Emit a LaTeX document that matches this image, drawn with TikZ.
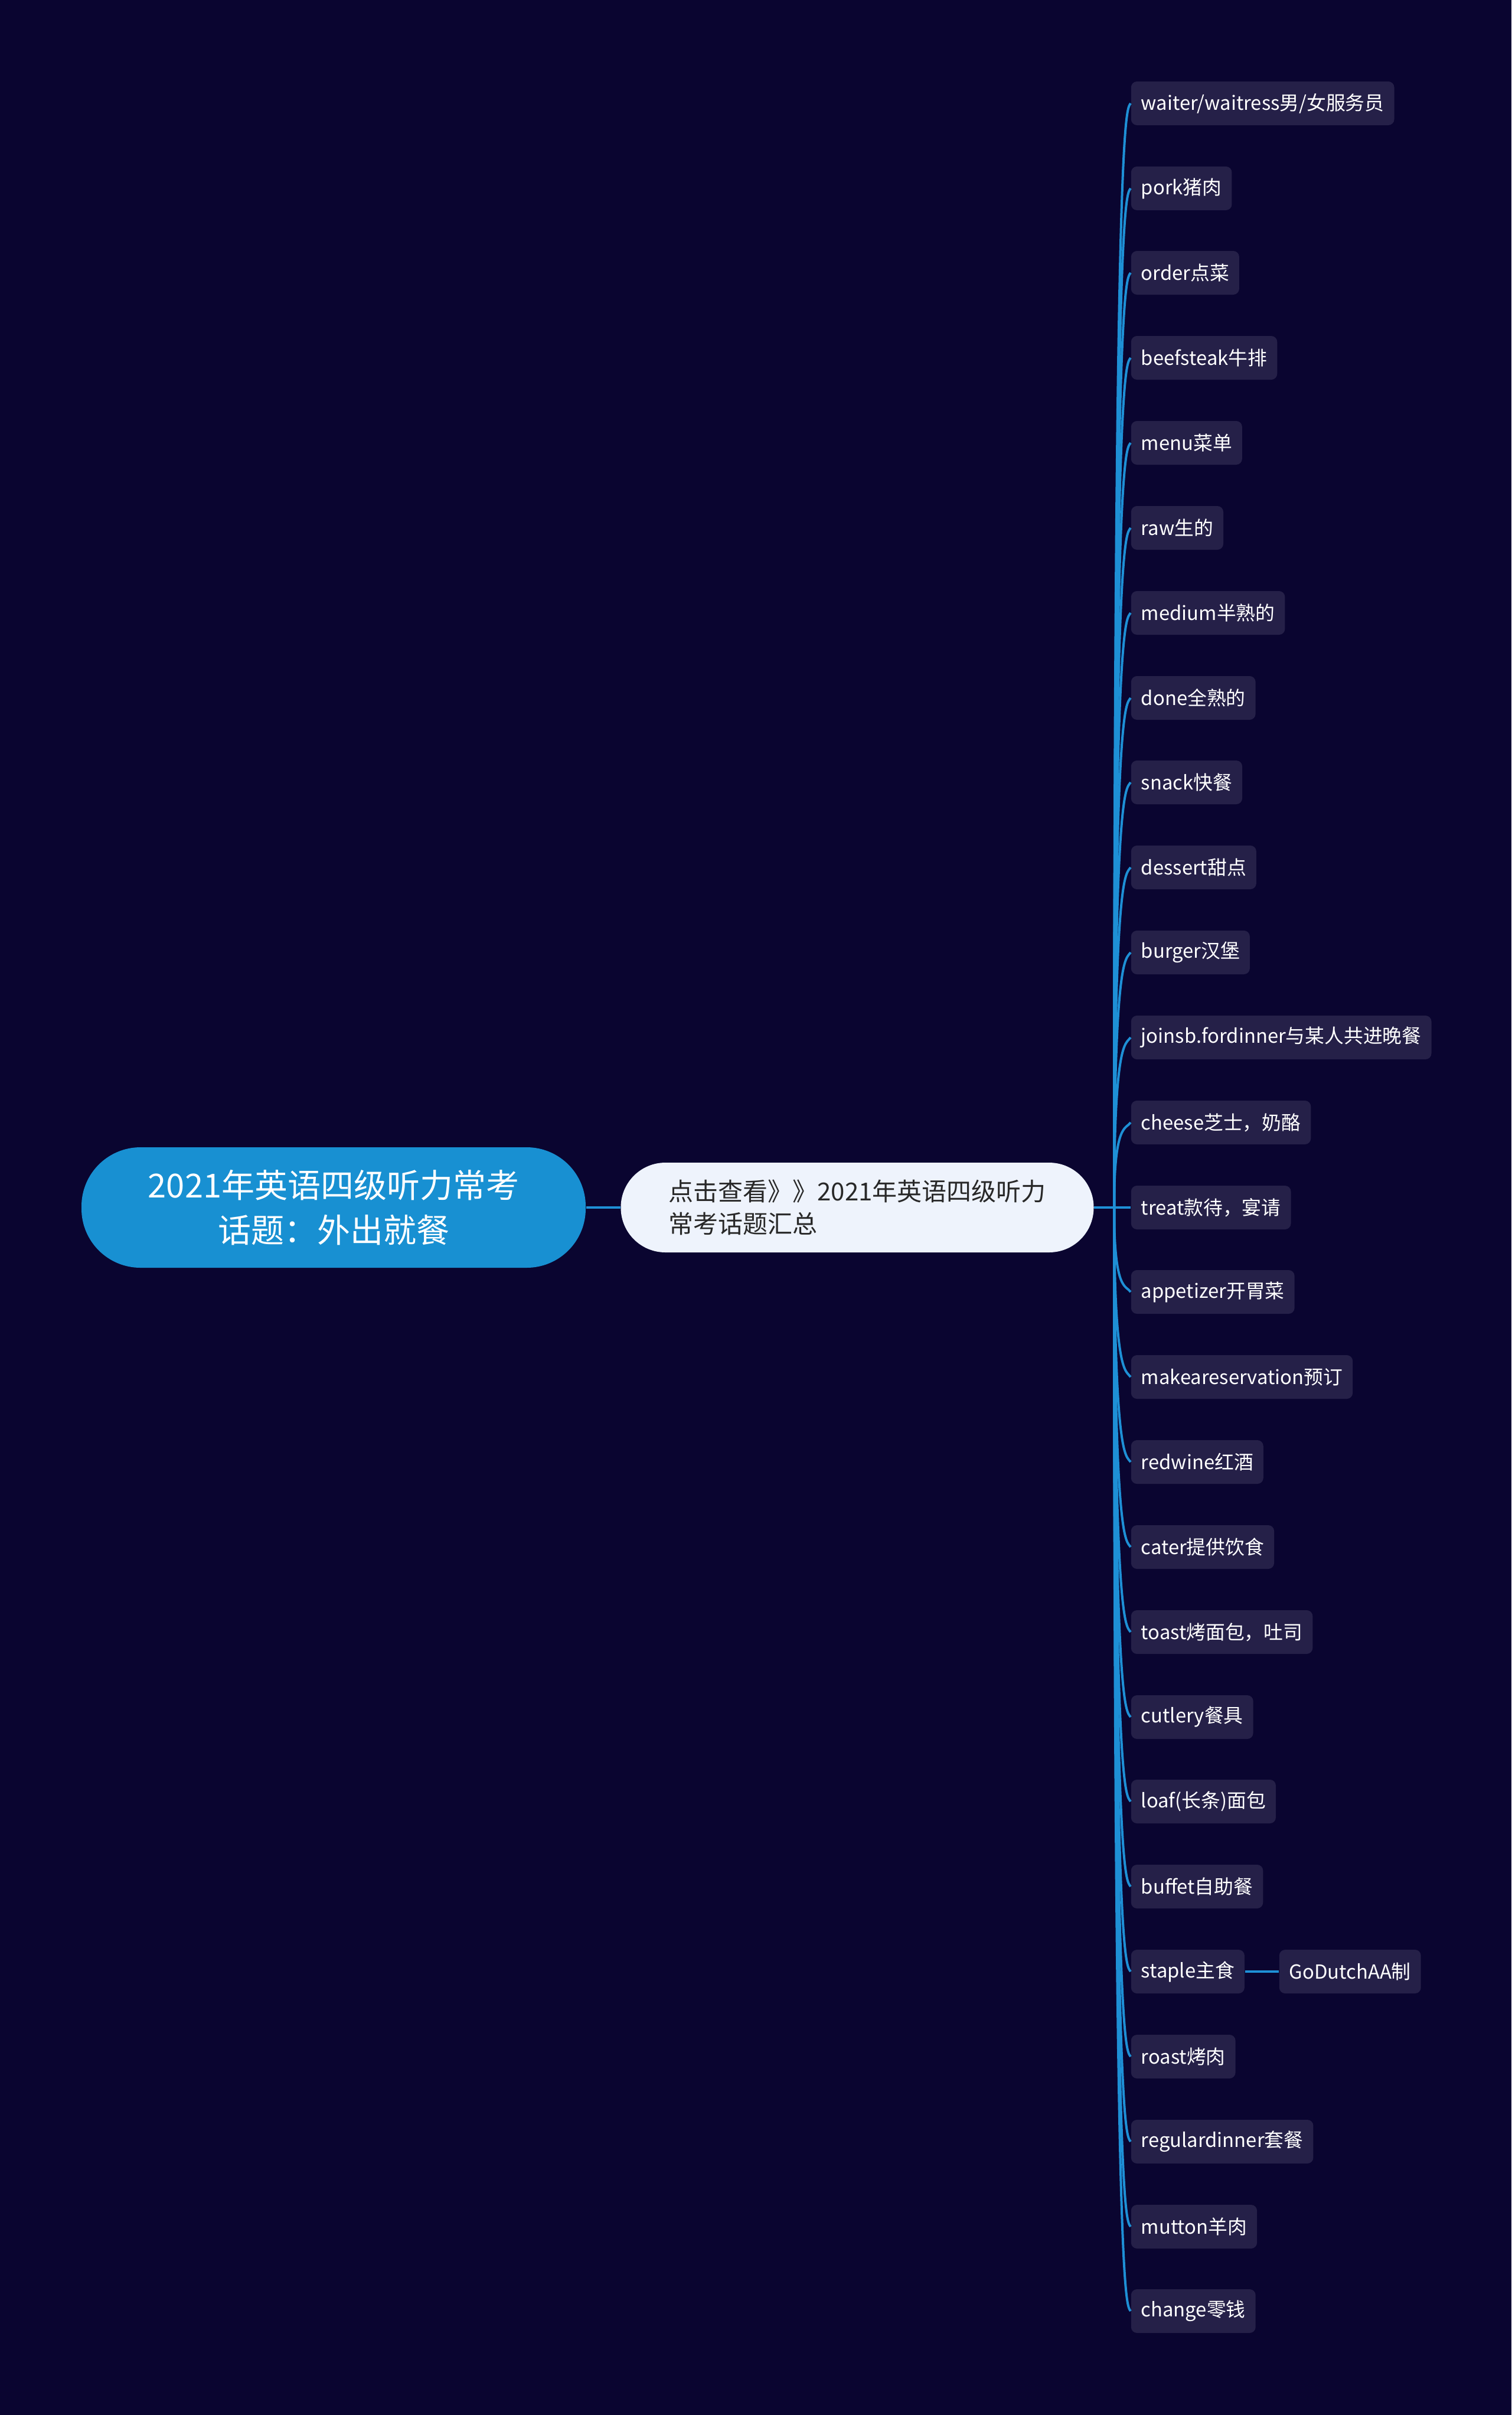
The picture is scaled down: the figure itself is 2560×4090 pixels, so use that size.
\documentclass[tikz,border=0pt]{standalone}
\usepackage{fontspec}
\setmainfont{Noto Sans CJK SC}
\usepackage{tikz}

\definecolor{bgnavy}{RGB}{10,5,48}
\definecolor{leafbg}{RGB}{37,32,72}
\definecolor{linkblue}{RGB}{30,144,214}
\definecolor{rootblue}{RGB}{24,144,210}
\definecolor{midbg}{RGB}{238,243,252}
\definecolor{midtext}{RGB}{40,40,40}

\tikzset{
  rootbox/.style={fill=rootblue, text=white, rounded corners=25pt, minimum width=213.5pt,
    minimum height=51pt, inner sep=0pt, align=center, font=\fontsize{14}{19}\selectfont},
  topicbox/.style={fill=midbg, text=midtext, rounded corners=18.9pt, minimum width=200.25pt,
    minimum height=38pt, inner sep=0pt, align=left, font=\fontsize{10.5}{13.7}\selectfont},
  leaf/.style={fill=leafbg, text=white, rounded corners=2.5pt, minimum height=18.5pt,
    inner xsep=4.25pt, inner ysep=0pt, anchor=west, font=\fontsize{8.2}{10}\selectfont},
  branch/.style={draw=linkblue, line width=1pt},
  upbranch/.style={branch, to path={.. controls (\tikztostart |- \tikztotarget)
    and ([shift={(-8,12)}]\tikztotarget) .. (\tikztotarget)}},
  downbranch/.style={branch, to path={.. controls (\tikztostart |- \tikztotarget)
    and ([shift={(-8,-12)}]\tikztotarget) .. (\tikztotarget)}},
}

\begin{document}
\begin{tikzpicture}[x=0.25pt, y=-0.25pt]
\fill[bgnavy] (0,0) rectangle (2560,4090);
\useasboundingbox (0,0) rectangle (2560,4090);
%
\node[rootbox] (root) at (565,2045) {2021年英语四级听力常考\\话题：外出就餐};
\node[topicbox] (mid) at (1452,2045) {点击查看》》2021年英语四级听力\\常考话题汇总};
\coordinate (hub) at (1887,2045);
\draw[branch] (root.east) -- (mid.west);
\draw[branch] (mid.east) -- (hub);
%
\node[leaf] (l1) at (1915,175) {waiter/waitress男/女服务员};
\node[leaf] (l2) at (1915,319) {pork猪肉};
\node[leaf] (l3) at (1915,462) {order点菜};
\node[leaf] (l4) at (1915,606) {beefsteak牛排};
\node[leaf] (l5) at (1915,750) {menu菜单};
\node[leaf] (l6) at (1915,894) {raw生的};
\node[leaf] (l7) at (1915,1038) {medium半熟的};
\node[leaf] (l8) at (1915,1182) {done全熟的};
\node[leaf] (l9) at (1915,1325) {snack快餐};
\node[leaf] (l10) at (1915,1469) {dessert甜点};
\node[leaf] (l11) at (1915,1613) {burger汉堡};
\node[leaf] (l12) at (1915,1757) {joinsb.fordinner与某人共进晚餐};
\node[leaf] (l13) at (1915,1901) {cheese芝士，奶酪};
\node[leaf] (l14) at (1915,2045) {treat款待，宴请};
\node[leaf] (l15) at (1915,2188) {appetizer开胃菜};
\node[leaf] (l16) at (1915,2332) {makeareservation预订};
\node[leaf] (l17) at (1915,2476) {redwine红酒};
\node[leaf] (l18) at (1915,2620) {cater提供饮食};
\node[leaf] (l19) at (1915,2764) {toast烤面包，吐司};
\node[leaf] (l20) at (1915,2908) {cutlery餐具};
\node[leaf] (l21) at (1915,3051) {loaf(长条)面包};
\node[leaf] (l22) at (1915,3195) {buffet自助餐};
\node[leaf] (l23) at (1915,3339) {staple主食};
\node[leaf] (l24) at (1915,3483) {roast烤肉};
\node[leaf] (l25) at (1915,3627) {regulardinner套餐};
\node[leaf] (l26) at (1915,3771) {mutton羊肉};
\node[leaf] (l27) at (1915,3914) {change零钱};
\node[leaf] (dutch) at (2166,3339) {GoDutchAA制};
%
\draw[upbranch] (hub) to (l1.west);
\draw[upbranch] (hub) to (l2.west);
\draw[upbranch] (hub) to (l3.west);
\draw[upbranch] (hub) to (l4.west);
\draw[upbranch] (hub) to (l5.west);
\draw[upbranch] (hub) to (l6.west);
\draw[upbranch] (hub) to (l7.west);
\draw[upbranch] (hub) to (l8.west);
\draw[upbranch] (hub) to (l9.west);
\draw[upbranch] (hub) to (l10.west);
\draw[upbranch] (hub) to (l11.west);
\draw[upbranch] (hub) to (l12.west);
\draw[upbranch] (hub) to (l13.west);
\draw[branch] (hub) -- (l14.west);
\draw[downbranch] (hub) to (l15.west);
\draw[downbranch] (hub) to (l16.west);
\draw[downbranch] (hub) to (l17.west);
\draw[downbranch] (hub) to (l18.west);
\draw[downbranch] (hub) to (l19.west);
\draw[downbranch] (hub) to (l20.west);
\draw[downbranch] (hub) to (l21.west);
\draw[downbranch] (hub) to (l22.west);
\draw[downbranch] (hub) to (l23.west);
\draw[downbranch] (hub) to (l24.west);
\draw[downbranch] (hub) to (l25.west);
\draw[downbranch] (hub) to (l26.west);
\draw[downbranch] (hub) to (l27.west);
\draw[branch] (l23.east) -- (dutch.west);
\end{tikzpicture}
\end{document}
